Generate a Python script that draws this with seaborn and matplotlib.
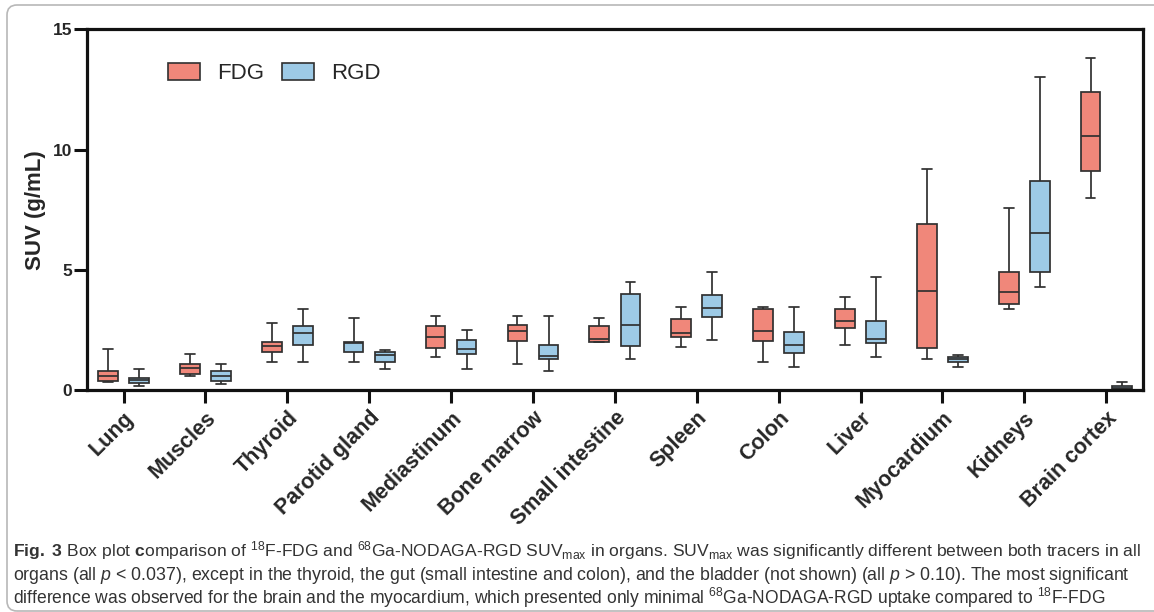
import matplotlib
matplotlib.use("Agg")
import matplotlib.pyplot as plt
import seaborn as sns
import pandas as pd
import numpy as np
from matplotlib import font_manager
from matplotlib.patches import Patch, FancyBboxPatch
from matplotlib.transforms import IdentityTransform

organs = ["Lung", "Muscles", "Thyroid", "Parotid gland", "Mediastinum", "Bone marrow",
          "Small intestine", "Spleen", "Colon", "Liver", "Myocardium", "Kidneys", "Brain cortex"]
tracers = ["FDG", "RGD"]

fdg_min = [0.35, 0.57, 1.16, 1.16, 1.37, 1.07, 2.00, 1.77, 1.15, 1.87, 1.28, 3.38, 8.00]
fdg_q1  = [0.37, 0.68, 1.59, 1.59, 1.75, 2.02, 2.00, 2.22, 2.05, 2.56, 1.73, 3.56, 9.12]
fdg_med = [0.58, 0.90, 1.82, 1.97, 2.19, 2.45, 2.11, 2.39, 2.45, 2.88, 4.13, 4.09, 10.57]
fdg_q3  = [0.79, 1.10, 1.98, 2.01, 2.66, 2.70, 2.65, 2.97, 3.36, 3.36, 6.89, 4.91, 12.38]
fdg_max = [1.69, 1.48, 2.79, 2.98, 3.08, 3.08, 2.98, 3.47, 3.47, 3.88, 9.19, 7.58, 13.82]

rgd_min = [0.18, 0.26, 1.16, 0.89, 0.89, 0.78, 1.28, 2.08, 0.97, 1.37, 0.97, 4.27, 0.03]
rgd_q1  = [0.29, 0.37, 1.86, 1.16, 1.48, 1.28, 1.84, 3.04, 1.53, 1.94, 1.18, 4.92, 0.06]
rgd_med = [0.42, 0.58, 2.36, 1.46, 1.69, 1.41, 2.72, 3.40, 1.87, 2.11, 1.28, 6.52, 0.10]
rgd_q3  = [0.51, 0.78, 2.66, 1.58, 2.09, 1.86, 3.98, 3.95, 2.43, 2.88, 1.36, 8.71, 0.17]
rgd_max = [0.87, 1.07, 3.37, 1.68, 2.48, 3.08, 4.48, 4.89, 3.47, 4.69, 1.47, 13.00, 0.35]

yticks = [0, 5, 10, 15]
y_label = "SUV (g/mL)"

caption_lines = [
    r"$\mathbf{Fig.\ 3}$ Box plot $\mathbf{c}$omparison of $^{18}$F-FDG and $^{68}$Ga-NODAGA-RGD SUV$_{\mathrm{max}}$ in organs. SUV$_{\mathrm{max}}$ was significantly different between both tracers in all",
    r"organs (all $p$ < 0.037), except in the thyroid, the gut (small intestine and colon), and the bladder (not shown) (all $p$ > 0.10). The most significant",
    r"difference was observed for the brain and the myocardium, which presented only minimal $^{68}$Ga-NODAGA-RGD uptake compared to $^{18}$F-FDG",
]

C_FDG = "#F0877A"
C_RGD = "#9DCAE6"
EDGE = "#303030"

# build long table: the five-number summary per box
rows = []
for i, org in enumerate(organs):
    for v in (fdg_min[i], fdg_q1[i], fdg_med[i], fdg_q3[i], fdg_max[i]):
        rows.append({"organ": org, "tracer": "FDG", "suv": v})
    for v in (rgd_min[i], rgd_q1[i], rgd_med[i], rgd_q3[i], rgd_max[i]):
        rows.append({"organ": org, "tracer": "RGD", "suv": v})
df = pd.DataFrame(rows)

sns.set_style("white")
plt.rcParams["font.family"] = ["Liberation Sans", "DejaVu Sans"]

names = {f.name for f in font_manager.fontManager.ttflist}
cap_font = "Liberation Sans Narrow" if "Liberation Sans Narrow" in names else "Liberation Sans"
plt.rcParams["mathtext.fontset"] = "custom"
plt.rcParams["mathtext.rm"] = cap_font
plt.rcParams["mathtext.it"] = cap_font + ":italic"
plt.rcParams["mathtext.bf"] = cap_font + ":bold"

fig = plt.figure(figsize=(11.54, 6.12), dpi=100)
fig.patch.set_facecolor("white")
ax = fig.add_axes([86.7 / 1154, 1 - 390 / 612, (1143 - 86.7) / 1154, (390 - 29.3) / 612])

sns.boxplot(data=df, x="organ", y="suv", hue="tracer", order=organs, hue_order=tracers,
            palette={"FDG": C_FDG, "RGD": C_RGD}, whis=(0, 100), width=0.76, gap=0.37,
            linecolor=EDGE, linewidth=1.25, saturation=1, legend=False, ax=ax,
            showfliers=False)

# the reference draws the Parotid gland FDG box in blue
for p in ax.patches:
    try:
        ext = p.get_path().get_extents()
    except Exception:
        continue
    cx = (ext.x0 + ext.x1) / 2
    if abs(cx - (3 - 0.19)) < 0.08:
        p.set_facecolor(C_RGD)

ax.set_xlim(-0.45, 12.45)
ax.set_ylim(0, 15)
ax.set_yticks(yticks)
ax.set_yticklabels([str(t) for t in yticks], fontsize=12.5, fontweight="bold")
ax.set_xticks(range(len(organs)))
ax.set_xticklabels(organs, fontsize=15.5, fontweight="bold", rotation=45,
                   ha="right", rotation_mode="anchor")
ax.set_xlabel("")
ax.set_ylabel(y_label, fontsize=16, fontweight="bold", labelpad=5)
for s in ax.spines.values():
    s.set_visible(True)
    s.set_linewidth(2.3)
    s.set_color("#111111")
ax.tick_params(axis="both", which="major", length=9.5, width=2.2, color="#111111",
               bottom=True, left=True, pad=1)
ax.tick_params(axis="x", pad=3)

handles = [Patch(facecolor=C_FDG, edgecolor=EDGE, linewidth=1.2, label="FDG"),
           Patch(facecolor=C_RGD, edgecolor=EDGE, linewidth=1.2, label="RGD")]
ax.legend(handles=handles, loc="center left", bbox_to_anchor=(0.077, 0.877), ncol=2,
          frameon=False, fontsize=16, handlelength=1.44, handleheight=0.77,
          handletextpad=0.77, columnspacing=0.81, borderpad=0, borderaxespad=0)

# caption
fig.canvas.draw()
renderer = fig.canvas.get_renderer()
targets = [1124, 1114, 1094]
centers = [551, 575, 598]
for line, tw, cy in zip(caption_lines, targets, centers):
    t = fig.text(13 / 1154, 1 - cy / 612, line, fontsize=12, family=cap_font,
                 color="#333333", ha="left", va="center")
    w = t.get_window_extent(renderer).width
    t.set_fontsize(12 * tw / w)

frame = FancyBboxPatch((7, 1), 1165, 606, boxstyle="round,pad=0,rounding_size=10",
                       transform=IdentityTransform(), fill=False, edgecolor="#b8b8b8",
                       linewidth=1.2)
fig.add_artist(frame)

fig.savefig("out.png", dpi=100)
